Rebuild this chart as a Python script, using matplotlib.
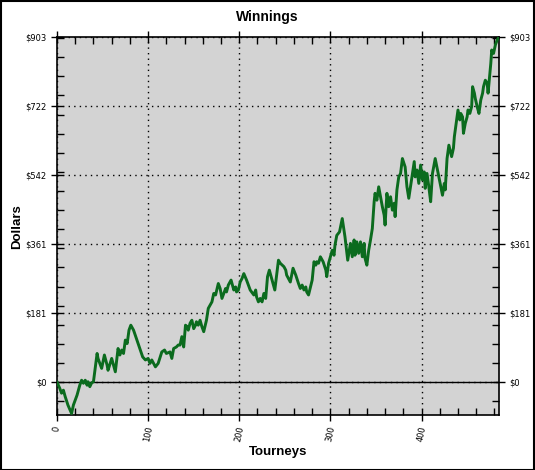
import matplotlib.pyplot as plt
from matplotlib.ticker import MultipleLocator, FixedLocator
from matplotlib.patches import Rectangle

# Valores: torneo -> ganancias acumuladas ($)
torneos = [0, 3, 5, 7, 9, 12, 16, 18, 22, 25, 27, 29, 31, 33, 34, 36, 38, 40,
           44, 45, 49, 52, 55, 56, 60, 64, 67, 69, 71, 73, 75, 77, 79, 81, 84,
           89, 94, 97, 100, 102, 104, 108, 111, 115, 118, 120, 124, 126, 128,
           131, 133, 135, 137, 139, 141, 143, 144, 146, 148, 150, 152, 153,
           155, 157, 159, 161, 164, 166, 170, 172, 174, 177, 179, 181, 185,
           186, 188, 191, 194, 196, 197, 199, 201, 203, 205, 208, 212, 216,
           218, 219, 221, 223, 225, 227, 229, 231, 233, 236, 239, 243, 245,
           249, 251, 252, 256, 259, 262, 265, 267, 269, 271, 273, 274, 276,
           280, 282, 284, 285, 287, 289, 292, 295, 296, 298, 302, 304, 305,
           307, 310, 313, 316, 319, 322, 324, 326, 327, 329, 331, 333, 335,
           337, 338, 340, 342, 344, 346, 348, 349, 351, 353, 355, 357, 359,
           360, 362, 364, 366, 368, 370, 371, 373, 375, 377, 379, 382, 384,
           386, 390, 392, 393, 395, 397, 399, 401, 403, 404, 406, 408, 410,
           412, 415, 419, 423, 425, 426, 428, 430, 433, 435, 436, 438, 440,
           442, 443, 445, 446, 448, 450, 451, 453, 455, 456, 458, 459, 461,
           463, 465, 467, 468, 470, 472, 473, 476, 477, 479, 481, 483, 485]
ganancias = [0, -16, -29, -21, -38, -60, -82, -60, -34, -8, 5, -3, 5, -8, 1,
             -12, -2, 1, 75, 62, 36, 71, 44, 31, 62, 27, 88, 71, 84, 75, 110,
             101, 136, 149, 136, 101, 66, 58, 62, 49, 58, 40, 49, 79, 84, 75,
             79, 62, 88, 92, 97, 97, 119, 92, 149, 145, 136, 154, 162, 140,
             149, 158, 149, 162, 145, 132, 162, 193, 210, 232, 228, 258, 245,
             219, 245, 236, 254, 267, 241, 249, 236, 241, 262, 271, 284, 267,
             241, 228, 241, 223, 210, 219, 210, 232, 219, 276, 293, 267, 241,
             319, 311, 302, 293, 280, 262, 298, 280, 258, 245, 254, 241, 249,
             236, 228, 267, 315, 306, 315, 311, 328, 315, 293, 276, 311, 345,
             332, 358, 384, 393, 428, 380, 319, 363, 328, 372, 332, 367, 337,
             367, 328, 363, 324, 306, 345, 372, 402, 472, 494, 476, 511, 485,
             459, 437, 411, 494, 459, 485, 450, 468, 433, 503, 537, 546, 585,
             563, 511, 481, 546, 577, 537, 555, 520, 568, 529, 550, 507, 546,
             511, 472, 546, 585, 537, 489, 520, 503, 585, 620, 590, 612, 642,
             677, 712, 686, 703, 694, 651, 677, 694, 712, 703, 721, 773, 756,
             742, 721, 703, 738, 756, 773, 790, 782, 756, 834, 869, 860, 882,
             895, 903]

max_dolares = 903
ticks_y = [max_dolares * i / 5 for i in range(6)]
etiquetas_y = ['$0', '$181', '$361', '$542', '$722', '$903']
ticks_x = [0, 100, 200, 300, 400]

fig = plt.figure(figsize=(5.35, 4.7), dpi=100)
ax = fig.add_axes([57 / 535, 55 / 470, 442 / 535, 378 / 470])
ax.set_facecolor('#d3d3d3')

ax.plot(torneos, ganancias, color='#0b6b1e', linewidth=2.1, zorder=3)
ax.axhline(0, color='black', linewidth=1.0, zorder=2)

ax.set_xlim(0, 485)
ax.set_ylim(-86, 903)

ax.yaxis.set_major_locator(FixedLocator(ticks_y))
ax.set_yticklabels(etiquetas_y)
ax.yaxis.set_minor_locator(MultipleLocator(50))
ax.xaxis.set_major_locator(FixedLocator(ticks_x))
ax.xaxis.set_minor_locator(MultipleLocator(20))

ax.grid(True, which='major', color='black', linestyle=(0, (1, 3)), linewidth=1.0)
ax.tick_params(which='major', direction='inout', length=8, width=1,
               top=True, right=True, labelright=True, labelsize=6)
ax.tick_params(which='minor', direction='in', length=5, width=1,
               top=True, right=True)
for lab in ax.get_xticklabels():
    lab.set_rotation(78)
    lab.set_fontsize(6)

for s in ax.spines.values():
    s.set_linewidth(1.2)

fig.text(0.5, 1 - 17 / 470, 'Winnings', ha='center', va='center',
         fontsize=10, fontweight='bold', family='Liberation Sans')
fig.text(278 / 535, 1 - 452 / 470, 'Tourneys', ha='center', va='center',
         fontsize=9.5, fontweight='bold', family='Liberation Sans')
fig.text(17 / 535, 1 - 227 / 470, 'Dollars', ha='center', va='center',
         rotation=90, fontsize=9.5, fontweight='bold', family='Liberation Sans')

# Marco negro alrededor de la figura
fig.patches.append(Rectangle((0.001, 0.001), 0.997, 0.997, transform=fig.transFigure,
                             fill=False, edgecolor='black', linewidth=1.5))

plt.savefig('out.png', dpi=100)
